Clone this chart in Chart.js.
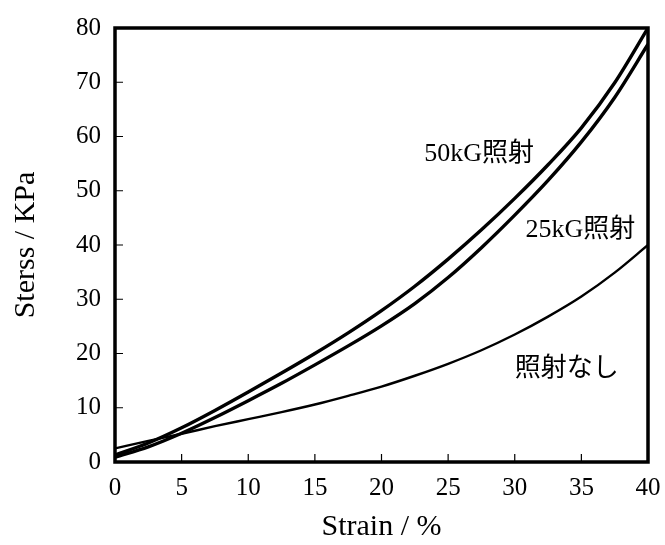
<!DOCTYPE html>
<html>
<head>
<meta charset="utf-8">
<script src="https://cdn.jsdelivr.net/npm/chart.js@4/dist/chart.umd.min.js"></script>
<style>
  html, body { margin: 0; padding: 0; background: #fff; }
  #wrap { width: 665px; height: 545px; }
</style>
</head>
<body>
<div id="wrap"><canvas id="c" width="665" height="545"></canvas></div>
<script>
const strain = [0, 2.5, 5, 7.5, 10, 12.5, 15, 17.5, 20, 22.5, 25, 27.5, 30, 32.5, 35, 37.5, 40];
const stress50kG = [1.3, 3.5, 6.3, 9.5, 12.9, 16.4, 20.0, 23.8, 27.9, 32.4, 37.4, 42.8, 48.6, 54.8, 61.6, 69.9, 80.0];
const stress25kG = [0.9, 2.8, 5.3, 8.2, 11.3, 14.5, 17.9, 21.4, 25.1, 29.2, 34.0, 39.5, 45.5, 51.9, 59.0, 67.2, 77.0];
const stressNone = [2.5, 3.9, 5.2, 6.6, 7.9, 9.2, 10.6, 12.2, 13.9, 15.9, 18.1, 20.6, 23.5, 26.8, 30.5, 34.9, 40.0];
const seriesNames = ['50kG照射', '25kG照射', '照射なし'];
const labelAnchors = [[23.2, 56.7], [30.8, 42.8], [30.0, 17.1]];
const xTicks = { min: 0, max: 40, step: 5 };
const yTicks = { min: 0, max: 80, step: 10 };

const pts = (ys) => strain.map((x, i) => ({ x: x, y: ys[i] }));
const serif = '"Liberation Serif", "Noto Sans CJK JP", serif';

const framePlugin = {
  id: 'frame',
  afterDatasetsDraw(chart) {
    const { ctx, chartArea: a, scales } = chart;
    ctx.save();
    ctx.strokeStyle = '#000';
    ctx.lineWidth = 1.2;
    ctx.beginPath();
    scales.x.ticks.forEach(t => {
      const px = scales.x.getPixelForValue(t.value);
      ctx.moveTo(px, a.bottom);
      ctx.lineTo(px, a.bottom - 8);
    });
    scales.y.ticks.forEach(t => {
      const py = scales.y.getPixelForValue(t.value);
      ctx.moveTo(a.left, py);
      ctx.lineTo(a.left + 8, py);
    });
    ctx.stroke();
    ctx.lineWidth = 3.5;
    ctx.strokeRect(a.left, a.top, a.right - a.left, a.bottom - a.top);
    ctx.fillStyle = '#000';
    ctx.font = '26px ' + serif;
    ctx.textAlign = 'left';
    ctx.textBaseline = 'middle';
    seriesNames.forEach((n, i) => {
      const px = scales.x.getPixelForValue(labelAnchors[i][0]);
      const py = scales.y.getPixelForValue(labelAnchors[i][1]);
      ctx.fillText(n, px, py);
    });
    ctx.restore();
  }
};

new Chart(document.getElementById('c'), {
  type: 'line',
  data: {
    datasets: [
      { label: seriesNames[0], data: pts(stress50kG), borderColor: '#000', borderWidth: 3.4, pointRadius: 0, cubicInterpolationMode: 'monotone', fill: false },
      { label: seriesNames[1], data: pts(stress25kG), borderColor: '#000', borderWidth: 3.4, pointRadius: 0, cubicInterpolationMode: 'monotone', fill: false },
      { label: seriesNames[2], data: pts(stressNone), borderColor: '#000', borderWidth: 2.4, pointRadius: 0, cubicInterpolationMode: 'monotone', fill: false }
    ]
  },
  options: {
    responsive: false,
    animation: false,
    devicePixelRatio: 1,
    layout: { padding: { left: 0, top: 28, right: 17, bottom: 0 } },
    plugins: { legend: { display: false }, tooltip: { enabled: false } },
    scales: {
      x: {
        type: 'linear', min: xTicks.min, max: xTicks.max,
        grid: { display: false, drawTicks: false }, border: { display: false },
        ticks: { stepSize: xTicks.step, color: '#000', font: { family: serif, size: 25 }, padding: 11, maxRotation: 0 },
        title: { display: true, text: 'Strain / %', color: '#000', font: { family: serif, size: 30 }, padding: { top: 4, bottom: 0 } },
        afterFit(s) { s.height = 83; s.paddingLeft = 0; s.paddingRight = 0; }
      },
      y: {
        type: 'linear', min: yTicks.min, max: yTicks.max,
        grid: { display: false, drawTicks: false }, border: { display: false },
        ticks: { stepSize: yTicks.step, color: '#000', font: { family: serif, size: 25 }, padding: 14 },
        title: { display: true, text: 'Sterss / KPa', color: '#000', font: { family: serif, size: 30 }, padding: { top: 8, bottom: 8 } },
        afterFit(s) { s.width = 115; s.paddingTop = 0; s.paddingBottom = 0; }
      }
    }
  },
  plugins: [framePlugin]
});
</script>
</body>
</html>
